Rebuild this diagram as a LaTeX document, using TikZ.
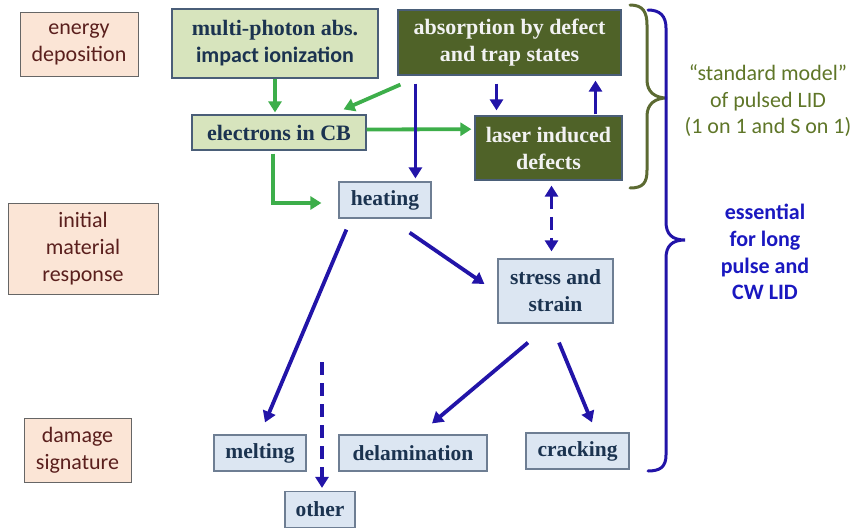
\documentclass[tikz,border=0pt]{standalone}
\usepackage{fontspec}
\setmainfont{Liberation Serif}
\newfontfamily\calfont{Carlito}
\usetikzlibrary{arrows.meta}
\definecolor{pinkfill}{HTML}{FBE5D6}
\definecolor{pinktext}{HTML}{5A1F1D}
\definecolor{lgreen}{HTML}{D7E4BD}
\definecolor{dgreen}{HTML}{4F6228}
\definecolor{lblue}{HTML}{DCE6F2}
\definecolor{navytext}{HTML}{1B3350}
\definecolor{slate}{HTML}{4A5E78}
\definecolor{arrgreen}{HTML}{3DAE4A}
\definecolor{arrblue}{HTML}{2214A8}
\definecolor{olive}{HTML}{5C6A32}
\definecolor{olivetext}{HTML}{5F7628}
\definecolor{bluetext}{HTML}{1A18C0}
\tikzset{
  base/.style={inner sep=0pt, align=center},
  pinkbox/.style={base, draw=black!60, line width=1pt, fill=pinkfill, text=pinktext,
     font=\calfont\fontsize{22}{27}\selectfont},
  lgbox/.style={base, draw=slate, line width=1.2pt, fill=lgreen, text=navytext,
     font=\fontsize{22}{27}\selectfont\bfseries},
  dgbox/.style={base, draw=slate, line width=1.2pt, fill=dgreen, text=white!95!black,
     font=\fontsize{22}{27}\selectfont\bfseries},
  lbbox/.style={base, draw=slate!80, line width=1.2pt, fill=lblue, text=navytext,
     font=\fontsize{21.5}{27}\selectfont\bfseries},
  garrow/.style={draw=arrgreen, line width=3.8pt, -{Triangle[length=11pt,width=13pt]}},
  barrow/.style={draw=arrblue, line width=3.8pt, -{Triangle[length=11pt,width=13pt]}},
  bdash/.style={draw=arrblue, line width=3.8pt, dash pattern=on 13pt off 8pt},
  brace/.style={line width=3pt, line cap=round},
}
\begin{document}
\begin{tikzpicture}[x=1pt,y=-1pt]
\useasboundingbox (0,0) rectangle (856,527);
% category boxes
\node[pinkbox, minimum width=118pt, minimum height=63pt] (energy) at (79,44.5) {energy\\deposition};
\node[pinkbox, minimum width=150pt, minimum height=91pt] (initial) at (83,248.5) {initial\\material\\response};
\node[pinkbox, minimum width=107pt, minimum height=64pt] (damage) at (77.5,450) {damage\\signature};
% process boxes
\node[lgbox, line width=2.2pt, minimum width=206pt, minimum height=69pt] (mp) at (275,43.5)
  {multi-photon abs.\\{\calfont\bfseries\fontsize{22}{27}\selectfont impact ionization}};
\node[lgbox, minimum width=174pt, minimum height=35pt] (elec) at (279,132.5) {electrons in CB};
\node[dgbox, minimum width=223pt, minimum height=65pt] (abs) at (509.5,42.5) {absorption by defect\\and trap states};
\node[dgbox, minimum width=147pt, minimum height=64pt] (lid) at (548.5,148) {laser induced\\defects};
\node[lbbox, minimum width=92pt, minimum height=36pt] (heat) at (385,200) {heating};
\node[lbbox, minimum width=115pt, minimum height=64pt] (stress) at (555.5,291) {stress and\\strain};
\node[lbbox, minimum width=92pt, minimum height=36pt] (melt) at (260,453) {melting};
\node[lbbox, minimum width=148pt, minimum height=36pt] (delam) at (413,453) {delamination};
\node[lbbox, minimum width=103pt, minimum height=36pt] (crack) at (577.5,451) {cracking};
\node[lbbox, minimum width=70pt, minimum height=36pt] (other) at (320,509.5) {other};
% green arrows
\draw[garrow, shorten >=2pt] (mp.south) -- (mp.south |- elec.north);
\draw[garrow] ([xshift=3pt,yshift=-9pt]abs.south west) -- ([xshift=-23pt,yshift=5pt]elec.north east);
\coordinate (ge1) at ([yshift=3pt]elec.east);
\coordinate (ge2) at ([yshift=3.3pt,xshift=-3pt]lid.west |- elec.east);
\draw[garrow] (ge1) -- (ge2);
\draw[garrow, shorten <=3pt, shorten >=17pt] ([xshift=-6pt]elec.south) |- ([yshift=-3pt]heat.west);
% blue arrows
\draw[barrow, shorten <=8pt, shorten >=3pt] ([xshift=18pt]abs.south west) -- ([xshift=18pt]abs.south west |- heat.north);
\draw[barrow, shorten <=8pt, shorten >=5pt] ([xshift=-13pt]abs.south) -- ([xshift=-13pt]abs.south |- lid.north);
\draw[barrow, shorten <=1pt, shorten >=5pt] ([xshift=47pt]lid.north) -- ([xshift=47pt]lid.north |- abs.south);
\draw[bdash, {Triangle[length=11pt,width=13pt]}-{Triangle[length=11pt,width=13pt]}, shorten <=5pt, shorten >=7pt]
  ([xshift=3pt]lid.south) -- ([xshift=3pt]lid.south |- stress.north);
\draw[barrow] ([xshift=8pt,yshift=-11pt]heat.south west) -- ([xshift=5pt,yshift=12pt]melt.north);
\draw[barrow] ([xshift=-22pt,yshift=-14pt]heat.south east) -- ([xshift=-13pt,yshift=7pt]stress.west);
\coordinate (o1) at (322,362);
\draw[bdash, -{Triangle[length=11pt,width=13pt]}, shorten >=3pt] (o1) -- (o1 |- other.north);
\draw[barrow] ([xshift=-27.5pt,yshift=-19pt]stress.south) -- ([xshift=19pt,yshift=11pt]delam.north);
\draw[barrow] ([xshift=3.5pt,yshift=-19pt]stress.south) -- ([xshift=14.5pt,yshift=10pt]crack.north);
% braces
\draw[brace, draw=olive] (630,5) .. controls (643,5) and (647,12) .. (647,25) -- (647,80)
  .. controls (647,92) and (655,98) .. (667,98) .. controls (655,98) and (647,104) .. (647,116)
  -- (647,170) .. controls (647,183) and (643,188) .. (630,188);
\draw[brace, draw=arrblue] (648,10) .. controls (660,10) and (666,16) .. (666,28) -- (666,222)
  .. controls (666,234) and (672,240) .. (685,240) .. controls (672,240) and (666,246) .. (666,258)
  -- (666,455) .. controls (666,467) and (660,471) .. (648,471);
% brace labels
\node[base, text=olivetext, font=\calfont\fontsize{22}{26.5}\selectfont] (std) at (768,101)
  {“standard model”\\of pulsed LID\\(1 on 1 and S on 1)};
\node[base, text=bluetext, font=\calfont\bfseries\fontsize{22}{26.7}\selectfont] (ess) at (765,252)
  {essential\\for long\\pulse and\\CW LID};
\end{tikzpicture}
\end{document}
